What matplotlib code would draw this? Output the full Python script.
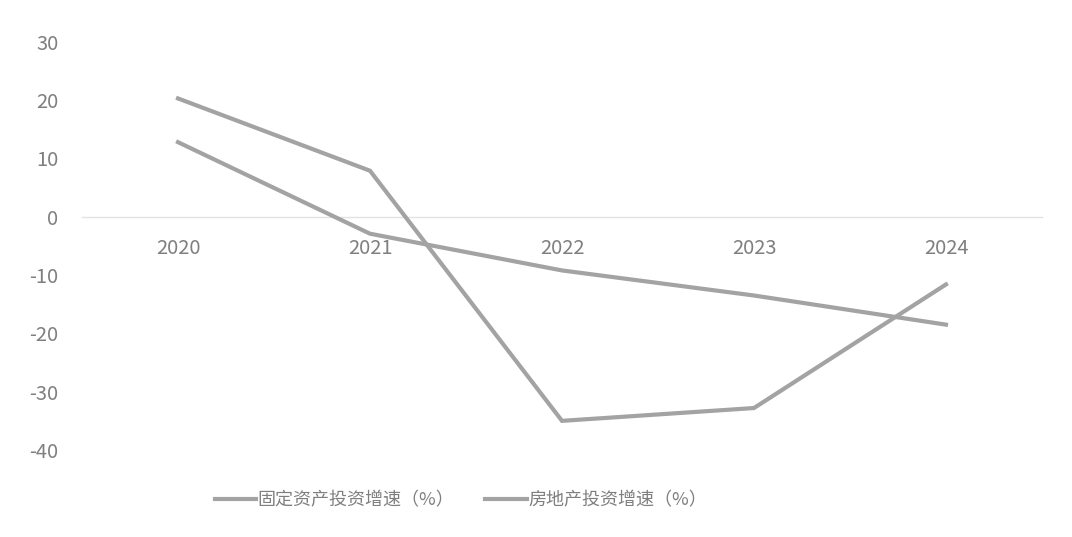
import matplotlib.pyplot as plt

plt.rcParams['font.family'] = ['Noto Sans CJK SC', 'DejaVu Sans']

years = ['2020', '2021', '2022', '2023', '2024']
# 固定资产投资增速 / 房地产投资增速 (%)
fixed_asset = [12.8, -2.9, -9.2, -13.5, -18.5]
real_estate = [20.3, 7.9, -35.0, -32.8, -11.6]
series_names = ['固定资产投资增速（%）', '房地产投资增速（%）']
y_ticks = [30, 20, 10, 0, -10, -20, -30, -40]

line_color = '#a3a3a3'
text_color = '#7f7f7f'

fig = plt.figure(figsize=(10.72, 5.37), dpi=100)
ax = fig.add_axes([0.0765, 0.162, 0.8955, 0.760])

x = range(len(years))
ax.plot(x, fixed_asset, color=line_color, lw=3, label=series_names[0],
        solid_joinstyle='miter')
ax.plot(x, real_estate, color=line_color, lw=3, label=series_names[1],
        solid_joinstyle='miter')

ax.set_xlim(-0.5, len(years) - 0.5)
ax.set_ylim(-40, 30)
ax.set_yticks(y_ticks)
ax.set_yticklabels([str(v) for v in y_ticks])
ax.set_xticks(list(x))
ax.set_xticklabels(years)

for s in ['top', 'right', 'left']:
    ax.spines[s].set_visible(False)
ax.spines['bottom'].set_position(('data', 0))
ax.spines['bottom'].set_color('#e2e2e2')
ax.spines['bottom'].set_linewidth(1)
ax.spines['bottom'].set_zorder(0)

ax.tick_params(axis='y', length=0, pad=17, labelsize=14.5, labelcolor=text_color)
ax.tick_params(axis='x', length=0, pad=15, labelsize=14.5, labelcolor=text_color)

fig.legend(loc='center', bbox_to_anchor=(0.430, 0.069), ncol=2, frameon=False,
           fontsize=13, handlelength=2.3, handletextpad=0.1, columnspacing=1.7,
           labelcolor=text_color)

fig.savefig('out.png', dpi=100, facecolor='white')
